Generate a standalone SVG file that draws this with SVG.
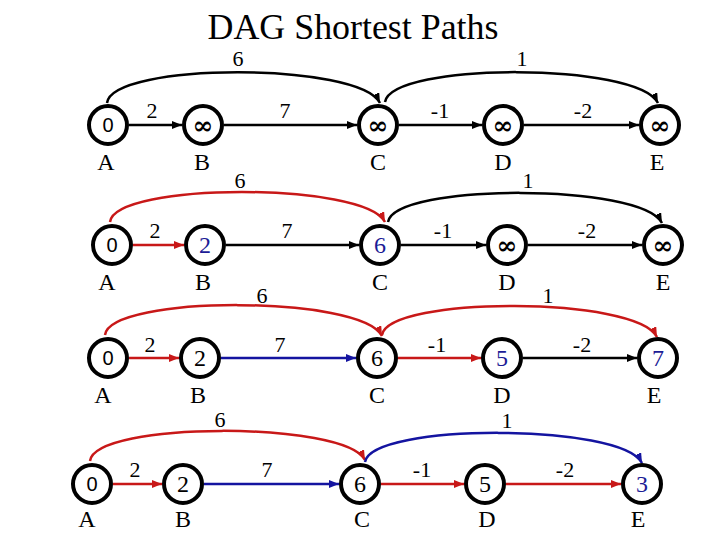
<svg xmlns="http://www.w3.org/2000/svg" width="720" height="540" viewBox="0 0 720 540">
<style>
.node{fill:#fff;stroke:#000;stroke-width:4}
.lbl,.val,.w,.title{font-family:'Liberation Serif','Times New Roman','DejaVu Serif',serif;text-anchor:middle;fill:#000}
.lbl{font-size:24px}
.val{font-size:24px}
.blue{fill:#1c1c96}
.zero{font-family:'Liberation Sans',Arial,sans-serif;font-size:20px;text-anchor:middle;fill:#000}
.inf{font-family:'DejaVu Serif',serif;font-size:25px;font-weight:bold;text-anchor:middle;fill:#000}
.w{font-size:22px}
.title{font-size:35px}
.e{fill:none;stroke-width:2.5}
.k{stroke:#000;marker-end:url(#ak)}
.r{stroke:#c81818;marker-end:url(#ar)}
.b{stroke:#1414a0;marker-end:url(#ab)}
</style>
<defs>
<marker id="ak" markerUnits="userSpaceOnUse" markerWidth="10" markerHeight="8" refX="10" refY="4" orient="auto"><path d="M0,0 L10,4 L0,8 z" fill="#000"/></marker>
<marker id="ar" markerUnits="userSpaceOnUse" markerWidth="10" markerHeight="8" refX="10" refY="4" orient="auto"><path d="M0,0 L10,4 L0,8 z" fill="#c81818"/></marker>
<marker id="ab" markerUnits="userSpaceOnUse" markerWidth="10" markerHeight="8" refX="10" refY="4" orient="auto"><path d="M0,0 L10,4 L0,8 z" fill="#1414a0"/></marker>
</defs>
<rect width="720" height="540" fill="#fff"/>
<text class="title" x="353" y="39" textLength="291" lengthAdjust="spacingAndGlyphs">DAG Shortest Paths</text>

<g id="connectors">
<!-- row 1 -->
<path class="e k" d="M107,103 C112,62 360,62 380,103"/>
<path class="e k" d="M385,102 C392,62 638,62 658,103"/>
<line class="e k" x1="129" y1="125" x2="182" y2="125"/>
<line class="e k" x1="224" y1="125" x2="357" y2="125"/>
<line class="e k" x1="399" y1="125" x2="482" y2="125"/>
<line class="e k" x1="524" y1="125" x2="639" y2="125"/>
<!-- row 2 -->
<path class="e r" d="M110,222 C115,182 365,182 385,222"/>
<path class="e k" d="M388,222 C395,183 642,183 662,223"/>
<line class="e r" x1="133" y1="245" x2="184" y2="245"/>
<line class="e k" x1="226" y1="245" x2="359" y2="245"/>
<line class="e k" x1="401" y1="245" x2="486" y2="245"/>
<line class="e k" x1="528" y1="245" x2="642" y2="245"/>
<!-- row 3 -->
<path class="e r" d="M105,335 C110,295 362,295 382,336"/>
<path class="e r" d="M382,335 C389,296 637,296 657,337"/>
<line class="e r" x1="129" y1="358" x2="179" y2="358"/>
<line class="e b" x1="221" y1="358" x2="356" y2="358"/>
<line class="e r" x1="398" y1="358" x2="481" y2="358"/>
<line class="e k" x1="523" y1="358" x2="637" y2="358"/>
<!-- row 4 -->
<path class="e r" d="M90,461 C95,421 345,421 365,460"/>
<path class="e b" d="M365,462 C372,423 622,423 642,463"/>
<line class="e r" x1="113" y1="484" x2="162" y2="484"/>
<line class="e b" x1="204" y1="484" x2="339" y2="484"/>
<line class="e r" x1="381" y1="484" x2="464" y2="484"/>
<line class="e r" x1="506" y1="484" x2="621" y2="484"/>
</g>

<g id="weights">
<text class="w" x="238" y="66">6</text>
<text class="w" x="522" y="66">1</text>
<text class="w" x="152" y="118">2</text>
<text class="w" x="285" y="118">7</text>
<text class="w" x="440" y="118">-1</text>
<text class="w" x="583" y="118">-2</text>

<text class="w" x="240" y="188">6</text>
<text class="w" x="528" y="188">1</text>
<text class="w" x="155" y="238">2</text>
<text class="w" x="287" y="238">7</text>
<text class="w" x="443" y="238">-1</text>
<text class="w" x="587" y="238">-2</text>

<text class="w" x="262" y="303">6</text>
<text class="w" x="548" y="303">1</text>
<text class="w" x="150" y="352">2</text>
<text class="w" x="280" y="352">7</text>
<text class="w" x="437" y="352">-1</text>
<text class="w" x="582" y="352">-2</text>

<text class="w" x="220" y="427">6</text>
<text class="w" x="507" y="428">1</text>
<text class="w" x="135" y="477">2</text>
<text class="w" x="267" y="477">7</text>
<text class="w" x="422" y="477">-1</text>
<text class="w" x="565" y="477">-2</text>
</g>

<!-- row 1 nodes -->
<g id="r1-A"><circle class="node" cx="108" cy="125" r="19"/><text class="zero" x="108" y="132">0</text><text class="lbl" x="106" y="170">A</text></g>
<g id="r1-B"><circle class="node" cx="203" cy="125" r="19"/><text class="inf" x="203" y="134">∞</text><text class="lbl" x="202" y="170">B</text></g>
<g id="r1-C"><circle class="node" cx="378" cy="125" r="19"/><text class="inf" x="378" y="134">∞</text><text class="lbl" x="378" y="170">C</text></g>
<g id="r1-D"><circle class="node" cx="503" cy="125" r="19"/><text class="inf" x="503" y="134">∞</text><text class="lbl" x="503" y="170">D</text></g>
<g id="r1-E"><circle class="node" cx="660" cy="125" r="19"/><text class="inf" x="660" y="134">∞</text><text class="lbl" x="657" y="170">E</text></g>

<!-- row 2 nodes -->
<g id="r2-A"><circle class="node" cx="112" cy="245" r="19"/><text class="zero" x="112" y="252">0</text><text class="lbl" x="107" y="290">A</text></g>
<g id="r2-B"><circle class="node" cx="205" cy="245" r="19"/><text class="val blue" x="205" y="253">2</text><text class="lbl" x="203" y="290">B</text></g>
<g id="r2-C"><circle class="node" cx="380" cy="245" r="19"/><text class="val blue" x="380" y="253">6</text><text class="lbl" x="380" y="290">C</text></g>
<g id="r2-D"><circle class="node" cx="507" cy="245" r="19"/><text class="inf" x="507" y="254">∞</text><text class="lbl" x="507" y="290">D</text></g>
<g id="r2-E"><circle class="node" cx="663" cy="245" r="19"/><text class="inf" x="663" y="254">∞</text><text class="lbl" x="663" y="290">E</text></g>

<!-- row 3 nodes -->
<g id="r3-A"><circle class="node" cx="108" cy="358" r="19"/><text class="zero" x="108" y="365">0</text><text class="lbl" x="103" y="403">A</text></g>
<g id="r3-B"><circle class="node" cx="200" cy="358" r="19"/><text class="val" x="200" y="366">2</text><text class="lbl" x="198" y="403">B</text></g>
<g id="r3-C"><circle class="node" cx="377" cy="358" r="19"/><text class="val" x="377" y="366">6</text><text class="lbl" x="377" y="403">C</text></g>
<g id="r3-D"><circle class="node" cx="502" cy="358" r="19"/><text class="val blue" x="502" y="366">5</text><text class="lbl" x="502" y="403">D</text></g>
<g id="r3-E"><circle class="node" cx="658" cy="358" r="19"/><text class="val blue" x="658" y="366">7</text><text class="lbl" x="654" y="403">E</text></g>

<!-- row 4 nodes -->
<g id="r4-A"><circle class="node" cx="92" cy="484" r="19"/><text class="zero" x="92" y="491">0</text><text class="lbl" x="87" y="527">A</text></g>
<g id="r4-B"><circle class="node" cx="183" cy="484" r="19"/><text class="val" x="183" y="492">2</text><text class="lbl" x="183" y="527">B</text></g>
<g id="r4-C"><circle class="node" cx="360" cy="484" r="19"/><text class="val" x="360" y="492">6</text><text class="lbl" x="362" y="527">C</text></g>
<g id="r4-D"><circle class="node" cx="485" cy="484" r="19"/><text class="val" x="485" y="492">5</text><text class="lbl" x="487" y="527">D</text></g>
<g id="r4-E"><circle class="node" cx="642" cy="484" r="19"/><text class="val blue" x="642" y="492">3</text><text class="lbl" x="638" y="527">E</text></g>
</svg>
